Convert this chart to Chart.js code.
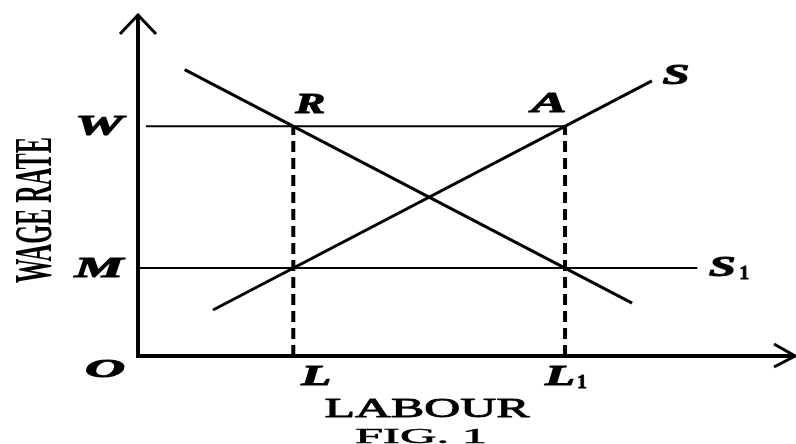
<!DOCTYPE html>
<html>
<head>
<meta charset="utf-8">
<script src="https://cdn.jsdelivr.net/npm/chart.js@4.4.1/dist/chart.umd.min.js"></script>
<style>
  html, body { margin: 0; padding: 0; background: #fff; }
  #wrap { width: 796px; height: 444px; position: relative; }
</style>
</head>
<body>
<div id="wrap"><canvas id="wageChart"></canvas></div>
<script>
// wage levels on the vertical axis
const wageLevels = [67.4, 25.8];
const wageLabels = ["W", "M"];
// labour quantities on the horizontal axis
const labourLevels = [23.6, 64.9];
const labourLabels = ["L", "L1"];
// demand curve (downward) end points
const demandX = [7.1, 75.1];
const demandY = [84.0, 15.5];
// supply curve S end points
const supplyX = [11.4, 78.1];
const supplyY = [13.5, 80.7];
// horizontal lines: W up to A, M (S1) out to the right
const wLineX = [1.2, 64.9];
const s1LineX = [0.3, 85];

function pts(xs, ys) {
  return xs.map(function (x, i) { return { x: x, y: ys[i] }; });
}

// draws text stretched to a box (the scan is wide), optional outline for heavier ink
function fitText(ctx, text, cx, cy, w, cap, style, angle, ink) {
  var size = cap / 0.66;
  ctx.save();
  ctx.font = style + " " + size + "px 'Liberation Serif'";
  var mw = ctx.measureText(text).width;
  ctx.translate(cx, cy);
  if (angle) ctx.rotate(angle);
  ctx.scale(w / mw, 1);
  ctx.textAlign = "center";
  ctx.textBaseline = "alphabetic";
  ctx.fillStyle = "#000";
  ctx.fillText(text, 0, cap / 2);
  if (ink) {
    ctx.strokeStyle = "#000";
    ctx.lineWidth = ink;
    ctx.lineJoin = "round";
    ctx.strokeText(text, 0, cap / 2);
  }
  ctx.restore();
}

var letterWidth = { W: 48, M: 49, S: 27, R: 30, A: 35, L: 30 };

function letter(ctx, text, cx, cy) {
  var main = text.charAt(0);
  var sub = text.slice(1);
  fitText(ctx, main, cx, cy, letterWidth[main] || 32, 19, "bold italic", 0, 1);
  if (sub) fitText(ctx, sub, cx + 22, cy + 6, 10, 13, "bold", 0, 0.8);
}

const annotate = {
  id: "annotate",
  afterDatasetsDraw: function (chart) {
    var ctx = chart.ctx;
    var xs = chart.scales.x, ys = chart.scales.y;
    var x0 = xs.getPixelForValue(0), y0 = ys.getPixelForValue(0);
    var xEnd = xs.getPixelForValue(xs.max), yTop = ys.getPixelForValue(ys.max);

    // axes with open arrow heads
    ctx.save();
    ctx.strokeStyle = "#000";
    ctx.lineWidth = 4;
    ctx.beginPath();
    ctx.moveTo(x0, yTop);
    ctx.lineTo(x0, y0);
    ctx.lineTo(xEnd - 2, y0);
    ctx.stroke();
    ctx.lineWidth = 3;
    ctx.beginPath();
    ctx.moveTo(x0 - 18, yTop + 19);
    ctx.lineTo(x0, yTop);
    ctx.lineTo(x0 + 18, yTop + 19);
    ctx.moveTo(xEnd - 22, y0 - 12);
    ctx.lineTo(xEnd - 1, y0);
    ctx.lineTo(xEnd - 22, y0 + 11);
    ctx.stroke();
    ctx.restore();

    // axis point labels
    wageLabels.forEach(function (t, i) {
      letter(ctx, t, x0 - 39, ys.getPixelForValue(wageLevels[i]) - 1);
    });
    labourLabels.forEach(function (t, i) {
      var px = xs.getPixelForValue(labourLevels[i]);
      letter(ctx, t, t === "L" ? px + 23 : px - 5, y0 + 19);
    });
    fitText(ctx, "O", x0 - 33, y0 + 12, 40, 17, "bold italic", 0, 1);

    // intersection labels
    var wy = ys.getPixelForValue(wageLevels[0]);
    letter(ctx, "R", xs.getPixelForValue(labourLevels[0]) + 17, wy - 23);
    letter(ctx, "A", xs.getPixelForValue(labourLevels[1]) - 16, wy - 24);
    letter(ctx, "S", xs.getPixelForValue(supplyX[1]) + 24, ys.getPixelForValue(supplyY[1]) - 6);
    letter(ctx, "S1", xs.getPixelForValue(s1LineX[1]) + 25, ys.getPixelForValue(wageLevels[1]) - 2);

    // axis titles
    fitText(ctx, "WAGE RATE", 33, 210, 146, 35, "bold", -Math.PI / 2);
    fitText(ctx, "LABOUR", 427, 408, 205, 18, "", 0, 0.8);
    fitText(ctx, "FIG. 1", 421, 436, 132, 14, "", 0, 0.5);
  }
};

var lineStyle = { borderColor: "#000", showLine: true, pointRadius: 0, fill: false, clip: false, tension: 0 };

var datasets = [
  Object.assign({ label: "W", data: pts(wLineX, [wageLevels[0], wageLevels[0]]), borderWidth: 2 }, lineStyle),
  Object.assign({ label: "S1", data: pts(s1LineX, [wageLevels[1], wageLevels[1]]), borderWidth: 2 }, lineStyle),
  Object.assign({ label: "D", data: pts(demandX, demandY), borderWidth: 3 }, lineStyle),
  Object.assign({ label: "S", data: pts(supplyX, supplyY), borderWidth: 3 }, lineStyle),
];
labourLevels.forEach(function (l, i) {
  datasets.push(Object.assign({
    label: labourLabels[i],
    data: pts([l, l], [0, wageLevels[0]]),
    borderWidth: 4,
    borderDash: [11, 6],
  }, lineStyle));
});

new Chart(document.getElementById("wageChart"), {
  type: "scatter",
  data: { datasets: datasets },
  options: {
    responsive: true,
    maintainAspectRatio: false,
    animation: false,
    layout: { padding: { left: 138, right: 0, top: 15, bottom: 88 } },
    plugins: { legend: { display: false }, tooltip: { enabled: false } },
    scales: {
      x: { type: "linear", min: 0, max: 100, display: false },
      y: { type: "linear", min: 0, max: 100, display: false },
    },
  },
  plugins: [annotate],
});
</script>
</body>
</html>
